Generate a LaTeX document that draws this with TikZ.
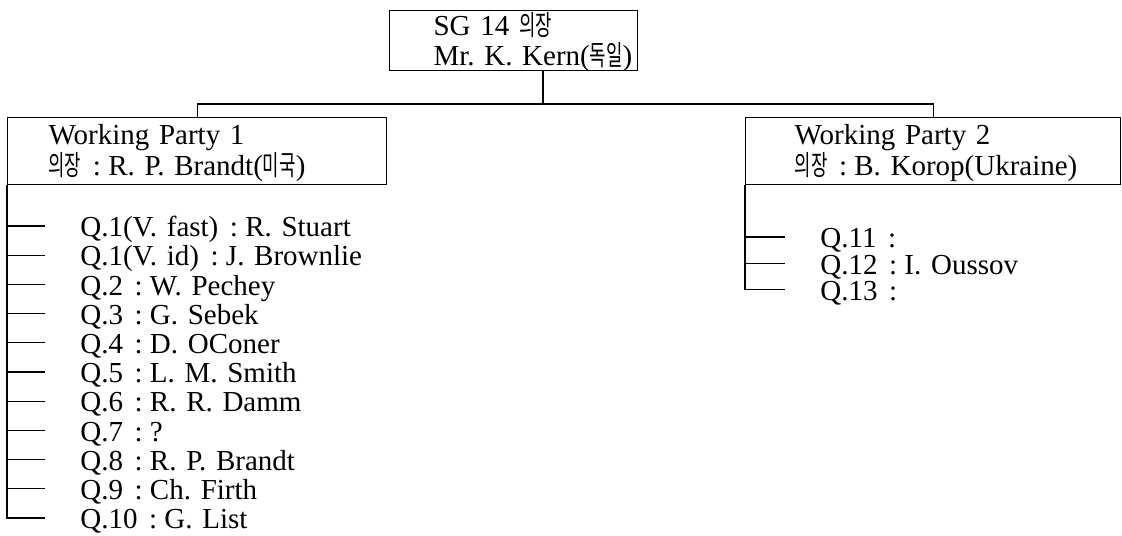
\documentclass[tikz,border=0pt]{standalone}
\usepackage{fontspec}
\setmainfont{Liberation Serif}
\newfontfamily\kr[Scale=0.96, FakeStretch=0.64]{Noto Sans CJK KR}
\usetikzlibrary{positioning}
\frenchspacing
\newcommand{\ko}[1]{{\kr #1}}
\newcommand{\qc}{\hspace{0.4em}:\hspace{0.25em}}

\begin{document}
\begin{tikzpicture}[
  x=0.5pt, y=-0.5pt,
  every node/.style={font=\fontsize{14.5}{15.5}\selectfont},
  hbox/.style={draw, line width=0.6pt, anchor=north west, align=left, inner xsep=0pt, inner ysep=0pt,
    text height=13.2pt, execute at begin node={\lineskiplimit=-20pt}},
  item/.style={text width=150pt, align=left, inner sep=0pt, text height=12.4pt, text depth=1.8pt},
  link/.style={line width=0.6pt},
  tick/.style={line width=0.6pt, shorten >=17.5pt}
]
\useasboundingbox (0,0) rectangle (1122,535);

\node[hbox, font=\fontsize{14.5}{14.8}\selectfont, text height=12.5pt, text depth=17.5pt, text width=124pt] (sg) at (389,10) {\hspace*{22pt}\mbox{SG~14~\ko{의장}}\\\hspace*{22pt}\mbox{Mr. K. Kern(\ko{독일})}};
\node[hbox, text width=189.5pt, text depth=20.3pt] (wp1) at (7,117) {\hspace*{20.5pt}\mbox{Working Party 1}\\\hspace*{20.5pt}\mbox{\ko{의장}\qc R. P. Brandt(\ko{미국})}};
\node[hbox, text width=187.5pt, text depth=20.3pt] (wp2) at (745,117) {\hspace*{24.5pt}\mbox{Working Party 2}\\\hspace*{24.5pt}\mbox{\ko{의장}\qc B. Korop(Ukraine)}};

% questions of working party 1
\node[item, anchor=west] (q1a) at (80,226) {Q.1(V. fast)\qc R. Stuart};
\node[item, below=0pt of q1a] (q1b) {Q.1(V. id)\qc J. Brownlie};
\node[item, below=0pt of q1b] (q2) {Q.2\qc W. Pechey};
\node[item, below=0pt of q2] (q3) {Q.3\qc G. Sebek};
\node[item, below=0pt of q3] (q4) {Q.4\qc D. OConer};
\node[item, below=0pt of q4] (q5) {Q.5\qc L. M. Smith};
\node[item, below=0pt of q5] (q6) {Q.6\qc R. R. Damm};
\node[item, below=0pt of q6] (q7) {Q.7\qc ?};
\node[item, below=0pt of q7] (q8) {Q.8\qc R. P. Brandt};
\node[item, below=0pt of q8] (q9) {Q.9\qc Ch. Firth};
\node[item, below=0pt of q9] (q10) {Q.10\qc G. List};

% questions of working party 2
\node[item, anchor=west] (q11) at (820,237) {Q.11\qc};
\node[item, below=-1.4pt of q11] (q12) {Q.12\qc I. Oussov};
\node[item, below=-1.4pt of q12] (q13) {Q.13\qc};

\coordinate (bar) at (543,104);
\draw[link] (sg.south -| bar) -- (bar);
\draw[link] (wp1.north) |- (bar) -| (wp2.north);

\draw[tick] (wp1.south west) |- (q10.west);
\draw[tick] (wp1.west |- q1a.west) -- (q1a.west);
\draw[tick] (wp1.west |- q1b.west) -- (q1b.west);
\draw[tick] (wp1.west |- q2.west) -- (q2.west);
\draw[tick] (wp1.west |- q3.west) -- (q3.west);
\draw[tick] (wp1.west |- q4.west) -- (q4.west);
\draw[tick] (wp1.west |- q5.west) -- (q5.west);
\draw[tick] (wp1.west |- q6.west) -- (q6.west);
\draw[tick] (wp1.west |- q7.west) -- (q7.west);
\draw[tick] (wp1.west |- q8.west) -- (q8.west);
\draw[tick] (wp1.west |- q9.west) -- (q9.west);

\draw[tick] (wp2.south west) |- (q13.west);
\draw[tick] (wp2.west |- q11.west) -- (q11.west);
\draw[tick] (wp2.west |- q12.west) -- (q12.west);
\end{tikzpicture}
\end{document}
